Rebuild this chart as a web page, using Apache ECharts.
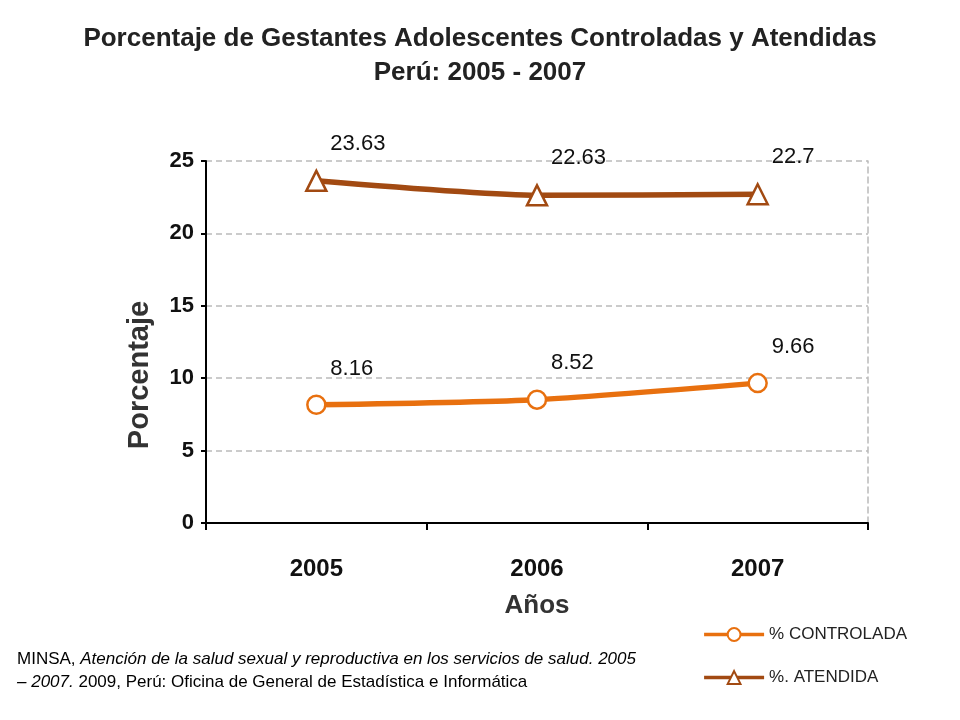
<!DOCTYPE html>
<html>
<head>
<meta charset="utf-8">
<script src="https://cdn.jsdelivr.net/npm/echarts@6/dist/echarts.min.js"></script>
<style>
  html, body { margin: 0; padding: 0; background: #fff; }
  #chart { width: 960px; height: 720px; }
</style>
</head>
<body>
<div id="chart"></div>
<script>
// datos
const years = ['2005', '2006', '2007'];
const controlada = [8.16, 8.52, 9.66];
const atendida = [23.63, 22.63, 22.7];
const yTicks = { min: 0, max: 25, interval: 5 };

const sans = '"Liberation Sans", Arial, sans-serif';

const chart = echarts.init(document.getElementById('chart'));

const lineLabel = {
	show: true,
	position: 'top',
	align: 'left',
	offset: [14, -10],
	color: '#111',
	fontFamily: sans,
	fontSize: 22,
	formatter: p => p.value
};

chart.setOption({
	animation: false,
	backgroundColor: '#fff',
	title: [
		{
			text: 'Porcentaje de Gestantes Adolescentes Controladas y Atendidas\nPerú: 2005 - 2007',
			left: 'center',
			top: 17,
			textStyle: {
				fontFamily: sans,
				fontWeight: 'bold',
				fontSize: 26,
				lineHeight: 34,
				color: '#222'
			}
		},
		{
			text: '{n|MINSA, }{i|Atención de la salud sexual y reproductiva en los servicios de salud. 2005}\n{i|– 2007.}{n| 2009, Perú: Oficina de General de Estadística e Informática}',
			left: 12,
			top: 643,
			textStyle: {
				fontWeight: 'normal',
				rich: {
					n: { fontFamily: sans, fontSize: 17, fontWeight: 'normal', color: '#000', lineHeight: 23 },
					i: { fontFamily: sans, fontSize: 17, fontWeight: 'normal', fontStyle: 'italic', color: '#000', lineHeight: 23 }
				}
			}
		}
	],
	legend: {
		orient: 'vertical',
		right: 48,
		top: 621,
		itemGap: 26,
		itemWidth: 60,
		itemHeight: 16,
		lineStyle: { width: 3.5 },
		textStyle: { fontFamily: sans, fontSize: 17, color: '#222' },
		data: ['% CONTROLADA', '%. ATENDIDA']
	},
	grid: {
		left: 206,
		right: 92,
		top: 161,
		bottom: 197
	},
	xAxis: {
		type: 'category',
		data: years,
		boundaryGap: true,
		name: 'Años',
		nameLocation: 'middle',
		nameGap: 70,
		nameTextStyle: { fontFamily: sans, fontWeight: 'bold', fontSize: 26, color: '#333' },
		axisLine: { lineStyle: { color: '#000', width: 2 } },
		axisTick: { show: true, length: 7, lineStyle: { color: '#000', width: 2 } },
		axisLabel: { margin: 34, fontFamily: sans, fontWeight: 'bold', fontSize: 24, color: '#111' },
		splitLine: { show: false }
	},
	yAxis: [
		{
			type: 'value',
			min: yTicks.min,
			max: yTicks.max,
			interval: yTicks.interval,
			name: 'Porcentaje',
			nameLocation: 'middle',
			nameGap: 52,
			nameRotate: 90,
			nameTextStyle: { fontFamily: sans, fontWeight: 'bold', fontSize: 29, color: '#333', padding: [0, 66, 0, 0] },
			axisLine: { show: true, lineStyle: { color: '#000', width: 2 } },
			axisTick: { show: true, length: 5, lineStyle: { color: '#000', width: 2 } },
			axisLabel: { margin: 12, fontFamily: sans, fontWeight: 'bold', fontSize: 22, color: '#111' },
			splitLine: { show: true, lineStyle: { color: '#bbb', type: [6, 4], width: 1.5 } }
		},
		{
			type: 'value',
			position: 'right',
			min: yTicks.min,
			max: yTicks.max,
			interval: yTicks.interval,
			axisLine: { show: true, lineStyle: { color: '#bbb', type: [6, 4], width: 1.5 } },
			axisTick: { show: false },
			axisLabel: { show: false },
			splitLine: { show: false }
		}
	],
	series: [
		{
			name: '% CONTROLADA',
			type: 'line',
			data: controlada,
			symbol: 'circle',
			symbolSize: 18,
			smooth: 0.2,
			lineStyle: { color: '#E8700F', width: 5.5 },
			itemStyle: { color: '#fff', borderColor: '#E8700F', borderWidth: 2.5 },
			label: lineLabel,
			z: 3
		},
		{
			name: '%. ATENDIDA',
			type: 'line',
			data: atendida,
			symbol: 'triangle',
			symbolSize: 20,
			smooth: 0.2,
			lineStyle: { color: '#A24A12', width: 5.5 },
			itemStyle: { color: '#fff', borderColor: '#A24A12', borderWidth: 2.5 },
			label: lineLabel,
			z: 3
		}
	]
});
</script>
</body>
</html>
